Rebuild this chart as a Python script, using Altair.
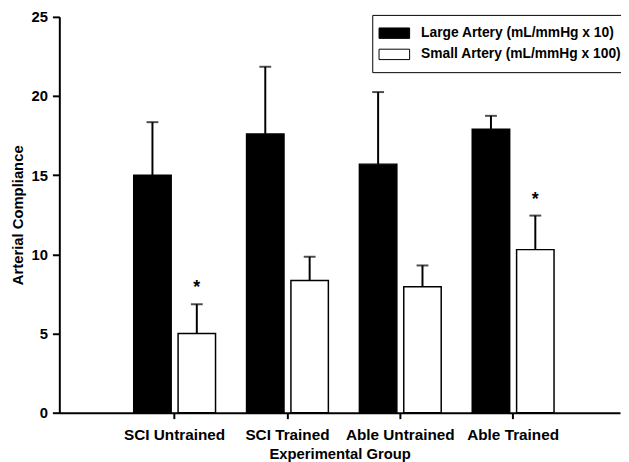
import altair as alt
import pandas as pd

groups = ["SCI Untrained", "SCI Trained", "Able Untrained", "Able Trained"]
series = ["Large Artery (mL/mmHg x 10)", "Small Artery (mL/mmHg x 100)"]
large_mean = [15.0, 17.6, 15.7, 17.9]
large_upper = [18.35, 21.85, 20.25, 18.75]
small_mean = [5.0, 8.35, 7.95, 10.3]
small_upper = [6.85, 9.85, 9.3, 12.45]
small_star = ["*", "", "", "*"]
y_ticks = [0, 5, 10, 15, 20, 25]

rows = []
for i, g in enumerate(groups):
    rows.append(dict(group=g, series=series[0], value=large_mean[i], upper=large_upper[i], star=""))
    rows.append(dict(group=g, series=series[1], value=small_mean[i], upper=small_upper[i], star=small_star[i]))
df = pd.DataFrame(rows)

FONT = "Liberation Sans"
YT = "Arterial Compliance"

x = alt.X("group:N", sort=groups, title="Experimental Group",
          scale=alt.Scale(paddingInner=0.275, paddingOuter=0.622, align=0.53))
xo = alt.XOffset("series:N", sort=series,
                 scale=alt.Scale(paddingInner=0.156, paddingOuter=0))
yscale = alt.Scale(domain=[0, 25], nice=False)

base = alt.Chart(df)

bars = base.mark_bar(stroke="black", strokeWidth=1.5).encode(
    x=x, xOffset=xo,
    y=alt.Y("value:Q", scale=yscale, title=YT, axis=alt.Axis(values=y_ticks)),
    fill=alt.Fill("series:N", sort=series,
                  scale=alt.Scale(domain=series, range=["black", "white"]),
                  legend=alt.Legend(
                      title=None, orient="none", legendX=317, legendY=-2,
                      strokeColor="black", padding=10, rowPadding=5.5,
                      symbolType="M-1.5,-0.68H2.5V0.68H-1.5Z", symbolSize=240,
                      symbolStrokeColor="black", symbolStrokeWidth=1,
                      labelOffset=22.5, labelLimit=400,
                      labelFont=FONT, labelFontSize=14, labelFontWeight="bold",
                      labelColor="black")),
)

rules = base.mark_rule(color="black", strokeWidth=2).encode(
    x=x, xOffset=xo,
    y=alt.Y("value:Q", scale=yscale, title=YT),
    y2="upper:Q",
)

caps = base.mark_tick(color="black", thickness=2, size=12, orient="horizontal").encode(
    x=x, xOffset=xo,
    y=alt.Y("upper:Q", scale=yscale, title=YT),
)

stars = base.mark_text(fontSize=18, font=FONT, fontWeight="bold", baseline="alphabetic",
                       dy=-11, color="black").encode(
    x=x, xOffset=xo,
    y=alt.Y("upper:Q", scale=yscale, title=YT),
    text="star:N",
)

chart = alt.layer(bars, rules, caps, stars).properties(
    width=568, height=401,
    autosize=alt.AutoSizeParams(type="none"),
    padding={"left": 52, "top": 6, "right": 1, "bottom": 52},
).configure_view(stroke=None).configure_axis(
    grid=False, domainColor="black", domainWidth=2, tickColor="black", tickWidth=2,
    labelFont=FONT, labelFontWeight="bold", labelFontSize=15, labelColor="black",
    titleFont=FONT, titleFontWeight="bold", titleFontSize=15, titleColor="black",
).configure_axisY(
    tickSize=7, labelPadding=5, titlePadding=6,
).configure_axisX(
    tickSize=6, labelPadding=9, titlePadding=4, labelAngle=0, labelFontSize=15.5,
)

chart.save("out.html", embed_options={"renderer": "svg", "actions": False})
